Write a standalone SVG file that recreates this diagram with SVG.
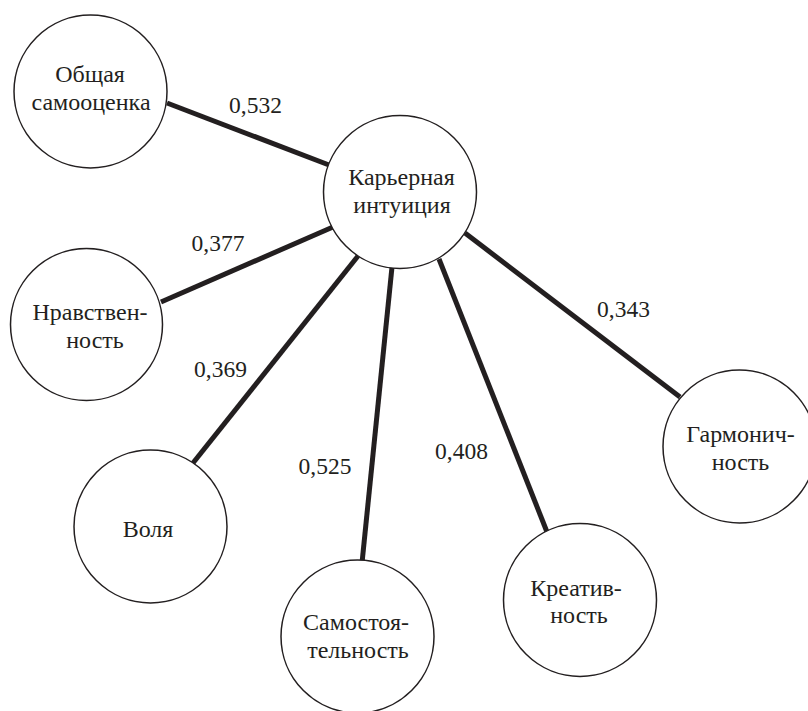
<svg xmlns="http://www.w3.org/2000/svg" width="808" height="711" viewBox="0 0 808 711">
<style>
.edge{stroke:#231f20;stroke-width:5;stroke-linecap:butt;fill:none}
.node circle{fill:#fff;stroke:#231f20;stroke-width:1.5}
.t{font-size:24px;fill:#231f20;text-anchor:middle}
.lbl{font-size:23.5px}
</style>
<rect width="808" height="711" fill="#fff"/>
<g font-family="Liberation Serif, DejaVu Serif, serif">
<g id="connectors">
<line class="edge" x1="167" y1="103" x2="329" y2="165"/>
<line class="edge" x1="161" y1="302" x2="333" y2="227"/>
<line class="edge" x1="193" y1="463" x2="358" y2="256"/>
<line class="edge" x1="362" y1="563" x2="392" y2="267"/>
<line class="edge" x1="547" y1="532" x2="439" y2="259"/>
<line class="edge" x1="680" y1="397" x2="465" y2="233"/>
<text class="t lbl" x="255.5" y="113">0,532</text>
<text class="t lbl" x="218" y="251">0,377</text>
<text class="t lbl" x="220.5" y="377">0,369</text>
<text class="t lbl" x="325" y="474">0,525</text>
<text class="t lbl" x="461.5" y="459">0,408</text>
<text class="t lbl" x="623.5" y="317">0,343</text>
</g>
<g id="n-obshchaya" class="node">
<circle cx="90.5" cy="91.5" r="76.5"/>
<text class="t" x="90" y="82">Общая</text>
<text class="t" x="91" y="110">самооценка</text>
</g>
<g id="n-kariernaya" class="node">
<circle cx="400" cy="192" r="76.5"/>
<text class="t" x="401.5" y="185">Карьерная</text>
<text class="t" x="402" y="213">интуиция</text>
</g>
<g id="n-nravstvennost" class="node">
<circle cx="86.5" cy="324.5" r="76"/>
<text class="t" x="90" y="320">Нравствен-</text>
<text class="t" x="95" y="348">ность</text>
</g>
<g id="n-volya" class="node">
<circle cx="150.5" cy="526.5" r="76.5"/>
<text class="t" x="148" y="537">Воля</text>
</g>
<g id="n-samostoyatelnost" class="node">
<circle cx="357.5" cy="636.5" r="76.5"/>
<text class="t" x="356" y="630">Самостоя-</text>
<text class="t" x="358" y="658">тельность</text>
</g>
<g id="n-kreativnost" class="node">
<circle cx="580" cy="600" r="76.5"/>
<text class="t" x="576" y="596">Креатив-</text>
<text class="t" x="579" y="623">ность</text>
</g>
<g id="n-garmonichnost" class="node">
<circle cx="739.5" cy="446.5" r="76.5"/>
<text class="t" x="740.5" y="442">Гармонич-</text>
<text class="t" x="740.5" y="470">ность</text>
</g>
</g>
</svg>
